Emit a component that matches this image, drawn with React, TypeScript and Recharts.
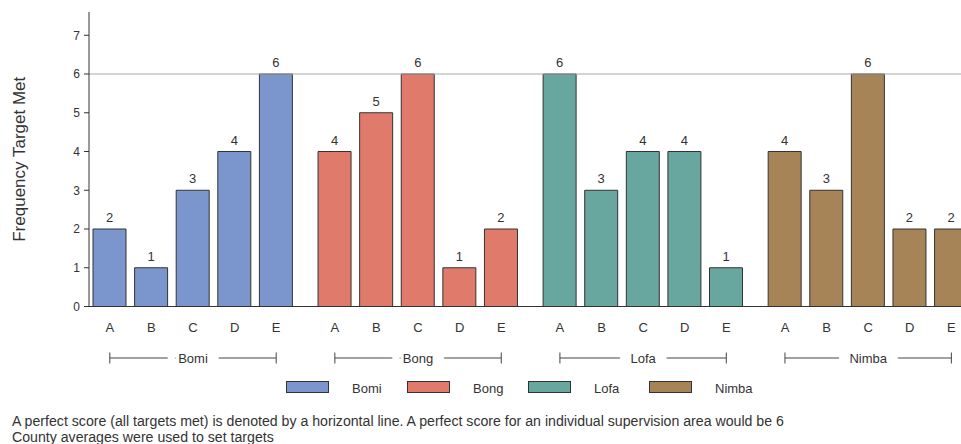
import React from 'react';
import { BarChart, Bar, XAxis, YAxis, ReferenceLine, LabelList, Cell } from 'recharts';

// ---- data ----
const counties = ['Bomi', 'Bong', 'Lofa', 'Nimba'];
const areas = ['A', 'B', 'C', 'D', 'E'];
const bomi = [2, 1, 3, 4, 6];
const bong = [4, 5, 6, 1, 2];
const lofa = [6, 3, 4, 4, 1];
const nimba = [4, 3, 6, 2, 2];
const countyColors = ['#7B96CC', '#E07B6C', '#67A7A0', '#A78457'];
const yTicks = [0, 1, 2, 3, 4, 5, 6, 7];
const perfectScore = 6;
const yLabel = 'Frequency Target Met';
const footnotes = [
  'A perfect score (all targets met) is denoted by a horizontal line. A perfect score for an individual supervision area would be 6',
  'County averages were used to set targets',
];

// ---- layout ----
const GROUP_STEP = 5.41; // slots per county, including the gap between counties
const X_DOMAIN: [number, number] = [-0.5, 22.5];
const Y_DOMAIN: [number, number] = [0, 7.6];
const CHART_W = 1060;
const CHART_H = 377;
const MARGIN = { top: 12, right: 14.2, left: 0, bottom: 0.5 };
const Y_AXIS_W = 89;
const PLOT_W = CHART_W - MARGIN.left - MARGIN.right - Y_AXIS_W;
const PX_PER_UNIT = PLOT_W / (X_DOMAIN[1] - X_DOMAIN[0]);
const TEXT = '#333333';
const FONT = 'Arial, "Liberation Sans", Helvetica, sans-serif';

const seriesValues = [bomi, bong, lofa, nimba];
const data = counties.flatMap((county, g) =>
  seriesValues[g].map((value, i) => ({ x: g * GROUP_STEP + i, area: areas[i], ai: i, county, g, value }))
);
const xTicks = data.map((d) => d.x);
const MID = (areas.length - 1) / 2;

const pointAt = (v: number) => data.find((p) => Math.abs(p.x - v) < 1e-6);

const AreaTick = (props: any) => {
  const { x, y, payload } = props;
  const d = pointAt(payload.value);
  if (!d) return null;
  const half = MID * PX_PER_UNIT;
  const ly = y + 35.5;
  return (
    <g>
      <text x={x} y={y} dy="0.71em" textAnchor="middle" fontSize={13} fontFamily={FONT} fill={TEXT}>
        {d.area}
      </text>
      {d.ai === MID && (
        <g>
          <line x1={x - half} x2={x + half} y1={ly} y2={ly} stroke="#444" strokeWidth={1} />
          <line x1={x - half} x2={x - half} y1={ly - 5.5} y2={ly + 5.5} stroke="#444" strokeWidth={1} />
          <line x1={x + half} x2={x + half} y1={ly - 5.5} y2={ly + 5.5} stroke="#444" strokeWidth={1} />
          <text
            x={x}
            y={ly + 4.6}
            textAnchor="middle"
            fontSize={13}
            fontFamily={FONT}
            fill={TEXT}
            stroke="#ffffff"
            strokeWidth={23}
            strokeLinejoin="round"
            paintOrder="stroke"
          >
            {d.county}
          </text>
        </g>
      )}
    </g>
  );
};

const YLabel = (props: any) => {
  const vb = props.viewBox || {};
  const cx = (vb.x || 0) + 19;
  const cy = (vb.y || 0) + (vb.height || 0) / 2;
  return (
    <text
      x={cx}
      y={cy}
      transform={`rotate(-90 ${cx} ${cy})`}
      textAnchor="middle"
      dominantBaseline="central"
      fontSize={17}
      fontFamily={FONT}
      fill={TEXT}
    >
      {yLabel}
    </text>
  );
};

export default function App() {
  return (
    <div
      style={{
        position: 'absolute',
        left: 0,
        top: 0,
        width: 961,
        height: 444,
        overflow: 'hidden',
        background: '#fff',
        fontFamily: FONT,
        color: TEXT,
      }}
    >
      <BarChart width={CHART_W} height={CHART_H} data={data} margin={MARGIN}>
        <XAxis
          xAxisId="top"
          orientation="top"
          type="number"
          domain={X_DOMAIN}
          allowDataOverflow
          height={0}
          tick={false}
          tickLine={false}
          axisLine={{ stroke: '#333' }}
        />
        <XAxis
          dataKey="x"
          type="number"
          domain={X_DOMAIN}
          allowDataOverflow
          ticks={xTicks}
          interval={0}
          height={70}
          tickLine={false}
          tickSize={6}
          tickMargin={10}
          axisLine={{ stroke: '#333' }}
          tick={<AreaTick />}
        />
        <YAxis
          type="number"
          domain={Y_DOMAIN}
          allowDataOverflow
          ticks={yTicks}
          interval={0}
          width={Y_AXIS_W}
          tickSize={5}
          tickMargin={4}
          axisLine={{ stroke: '#333' }}
          tickLine={{ stroke: '#333' }}
          tick={{ fontSize: 12, fill: TEXT, fontFamily: FONT }}
          label={YLabel}
        />
        <ReferenceLine y={perfectScore} stroke="#A8A8A8" strokeWidth={1} />
        <Bar dataKey="value" barSize={33} stroke="#333" strokeWidth={1} isAnimationActive={false}>
          {data.map((d, i) => (
            <Cell key={i} fill={countyColors[d.g]} />
          ))}
          <LabelList dataKey="value" position="top" offset={7} fontSize={13} fill={TEXT} fontFamily={FONT} />
        </Bar>
      </BarChart>

      {counties.map((c, i) => (
        <React.Fragment key={c}>
          <div
            style={{
              position: 'absolute',
              left: 286 + i * 121,
              top: 381,
              width: 43,
              height: 12,
              boxSizing: 'border-box',
              border: '1px solid #333',
              background: countyColors[i],
            }}
          />
          <div
            style={{
              position: 'absolute',
              left: 352 + i * 121,
              top: 380.7,
              fontSize: 13,
              lineHeight: '15px',
              whiteSpace: 'nowrap',
            }}
          >
            {c}
          </div>
        </React.Fragment>
      ))}

      <div
        style={{
          position: 'absolute',
          left: 12,
          top: 413.3,
          fontSize: 14.15,
          lineHeight: '16px',
          whiteSpace: 'nowrap',
        }}
      >
        {footnotes.map((t) => (
          <div key={t}>{t}</div>
        ))}
      </div>
    </div>
  );
}
